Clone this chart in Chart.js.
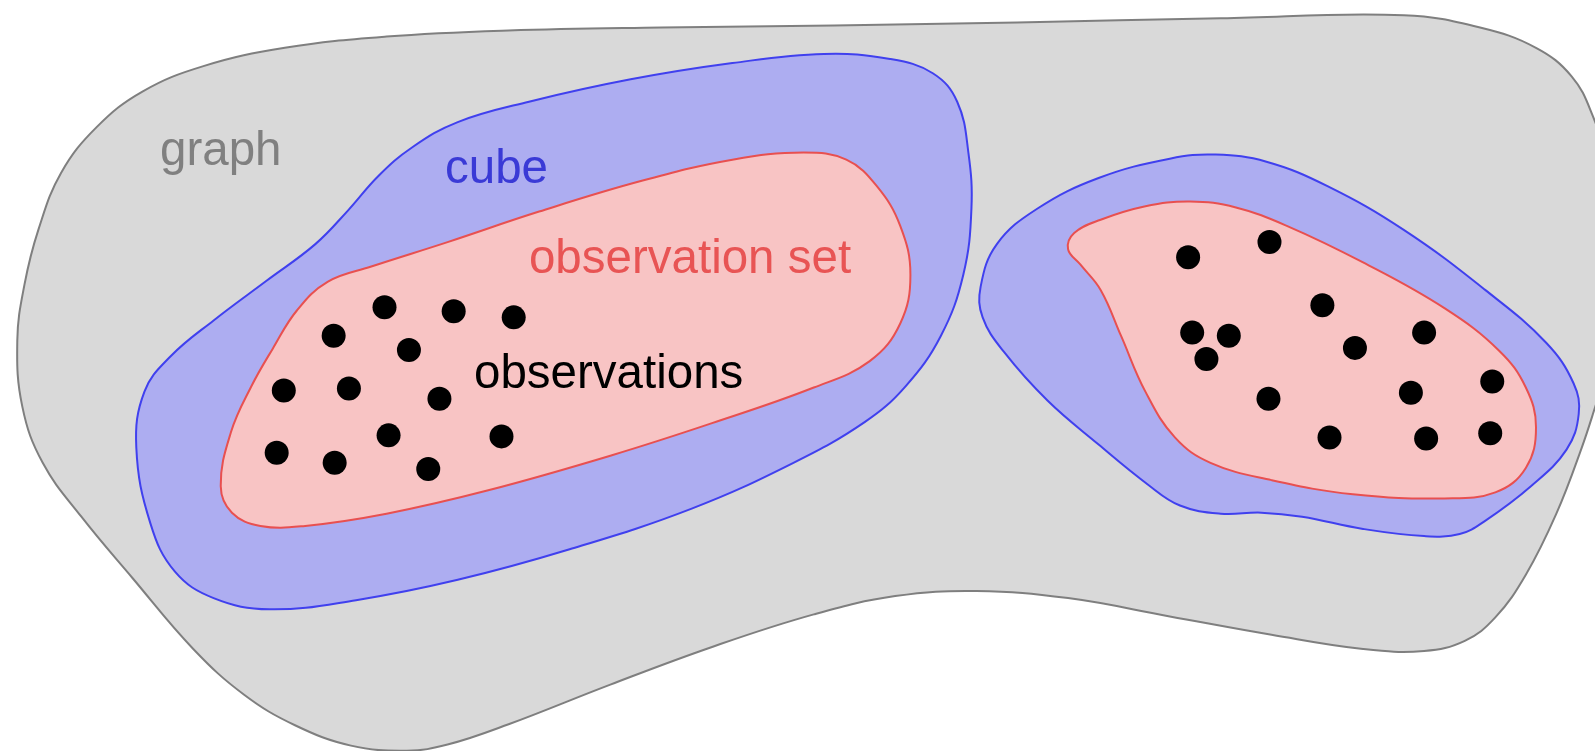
<!DOCTYPE html>
<html><head><meta charset="utf-8">
<script src="https://cdn.jsdelivr.net/npm/chart.js@4.4.1/dist/chart.umd.min.js"></script>
<style>html,body{margin:0;padding:0;background:#fff;overflow:hidden}#c{display:block}</style>
</head><body>
<canvas id="c" width="1595" height="751"></canvas>
<script>
// Outlines (closed loops), in diagram units
const graphOutline = [[17,335],[24,280],[38,225],[60,170],[95,125],[140,90],[200,65],[280,47],[380,36],[500,30],[650,27],[820,25],[1000,22],[1200,18],[1380,15],[1455,27],[1510,47],[1545,75],[1565,112],[1595,200],[1605,300],[1575,380],[1555,440],[1530,505],[1500,565],[1470,607],[1440,630],[1400,640],[1340,638],[1250,624],[1150,606],[1050,588],[960,581],[880,586],[800,604],[700,636],[600,673],[500,712],[440,732],[400,738],[345,733],[290,713],[240,683],[190,638],[130,568],[80,508],[42,455],[22,400]];
const cubeLeftOutline = [[134,440],[142,385],[168,350],[210,315],[262,276],[310,240],[342,207],[372,173],[405,145],[450,120],[520,100],[620,78],[720,62],[810,53],[875,58],[917,72],[941,100],[952,150],[955,205],[947,270],[925,330],[890,380],[850,415],[780,455],[680,500],[560,540],[450,570],[350,590],[265,599],[210,588],[172,562],[148,515]];
const obsSetLeftOutline = [[217,478],[227,425],[247,380],[268,343],[292,305],[322,277],[365,262],[440,238],[530,208],[630,178],[720,157],[790,150],[832,157],[862,183],[885,222],[895,270],[885,318],[855,355],[800,381],[700,416],[600,448],[480,482],[380,505],[300,517],[256,517],[228,504]];
const cubeRightOutline = [[964,282],[980,240],[1020,205],[1080,175],[1150,156],[1195,152],[1245,159],[1305,183],[1380,226],[1460,285],[1520,337],[1547,377],[1552,407],[1540,442],[1505,478],[1460,512],[1435,525],[1400,527],[1340,520],[1280,508],[1240,504],[1200,505],[1160,497],[1128,476],[1080,437],[1030,394],[987,346],[966,312]];
const obsSetRightOutline = [[1050,245],[1056,229],[1082,216],[1125,203],[1170,198],[1215,204],[1265,222],[1340,258],[1420,303],[1474,345],[1500,381],[1510,420],[1500,460],[1470,484],[1420,490],[1330,486],[1250,472],[1190,455],[1155,430],[1126,385],[1102,330],[1082,285],[1062,260]];
// Observations (dots)
const obsX = [378,446,505,328,402,279,343,432,272,329,382,421,493, 1168,1248,1300,1172,1208,1186,1332,1400,1467,1387,1247,1307,1402,1465];
const obsY = [302,306,312,330,344,384,382,392,445,455,428,461,429, 253,238,300,327,330,353,342,327,375,386,392,430,431,426];
// Labels
const labelTexts = ['graph','cube','observation set','observations'];
const labelX = [157.3,437.5,520,466];
const labelY = [161.8,179.6,268.4,381.4];
const labelColors = ['#808080','#3a3ad6','#e85454','#000000'];

const toPts = a => a.map(p => ({x:p[0], y:p[1]}));
function blob(data, fillC, lineC, order){
  return {type:'line', data: toPts(data), closed:true, fill:'shape', backgroundColor:fillC,
    borderColor:lineC, borderWidth:2, pointRadius:0, pointHoverRadius:0, tension:0.4,
    capBezierPoints:false, order:order};
}
const loopPlugin = {
  id:'loopPlugin',
  afterDatasetUpdate(chart, args){
    const ds = chart.data.datasets[args.index];
    if (ds.closed && args.meta.dataset){ args.meta.dataset._loop = true; args.meta.dataset._fullLoop = true; }
  }
};
const labelPlugin = {
  id:'labelPlugin',
  afterDatasetsDraw(chart){
    const ctx = chart.ctx, xs = chart.scales.x, ys = chart.scales.y;
    ctx.save();
    ctx.font = '47.5px "Liberation Sans", Arial, sans-serif';
    ctx.textBaseline = 'alphabetic'; ctx.textAlign = 'left';
    labelTexts.forEach((t,i)=>{
      ctx.fillStyle = labelColors[i];
      ctx.fillText(t, xs.getPixelForValue(labelX[i]), ys.getPixelForValue(labelY[i]));
    });
    ctx.restore();
  }
};
new Chart(document.getElementById('c'), {
  type:'line',
  data:{datasets:[
    {type:'scatter', data: obsX.map((x,i)=>({x, y:obsY[i]})), backgroundColor:'#000', borderColor:'#000', borderWidth:0, pointRadius:12, pointHoverRadius:12, order:0},
    blob(obsSetLeftOutline, '#f8c4c4', '#e85050', 1),
    blob(obsSetRightOutline, '#f8c4c4', '#e85050', 1),
    blob(cubeLeftOutline, '#adadf1', '#4040ee', 2),
    blob(cubeRightOutline, '#adadf1', '#4040ee', 2),
    blob(graphOutline, '#d9d9d9', '#7f7f7f', 3)
  ]},
  options:{
    responsive:false, animation:false, events:[],
    layout:{padding:0, autoPadding:false},
    scales:{
      x:{type:'linear', min:0, max:1568, display:false},
      y:{type:'linear', min:0, max:738.3, reverse:true, display:false}
    },
    plugins:{legend:{display:false}, tooltip:{enabled:false}}
  },
  plugins:[loopPlugin, labelPlugin]
});
</script>
</body></html>
